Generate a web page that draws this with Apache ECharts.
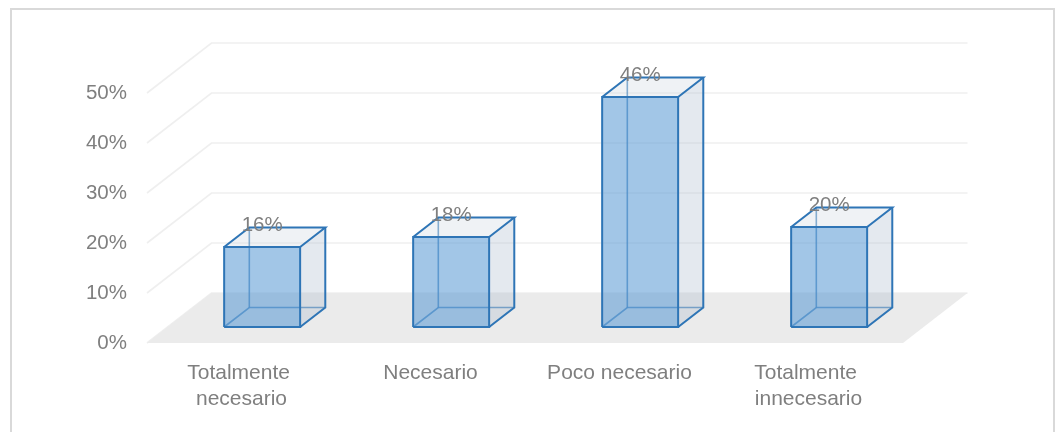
<!DOCTYPE html>
<html>
<head>
<meta charset="utf-8">
<title>Valoración</title>
<script src="https://cdn.jsdelivr.net/npm/echarts/dist/echarts.min.js"></script>
<style>
  html, body { margin: 0; padding: 0; background: #ffffff; }
  #chart { width: 1061px; height: 432px; }
</style>
</head>
<body>
<div id="chart"></div>
<script>
// Categories and percentages shown by the 3D columns
const categories = ['Totalmente necesario', 'Necesario', 'Poco necesario', 'Totalmente innecesario'];
const values = [16, 18, 46, 20];
const yTicks = [0, 10, 20, 30, 40, 50];

// Oblique projection of the depth axis (pixels from front plane to back wall)
const DEPTH = [64.5, -50];
// Column placement inside the depth of the floor, and width within a category band
const BAR_FRONT = 0.32;
const BAR_BACK = 0.71;
const BAR_WIDTH = 0.402;

const FONT = '"Liberation Sans", Arial, sans-serif';
const TEXT_COLOR = '#7f7f7f';
const EDGE = '#2e75b6';

function shift(p, k) {
  return [p[0] + DEPTH[0] * k, p[1] + DEPTH[1] * k];
}

// Back-wall and side-wall grid lines at each tick
function renderWallLine(params, api) {
  const cs = params.coordSys;
  const y = api.coord([0, api.value(1)])[1];
  const x0 = cs.x;
  const x1 = cs.x + cs.width;
  return {
    type: 'polyline',
    silent: true,
    shape: { points: [[x0, y], [x0 + DEPTH[0], y + DEPTH[1]], [x1 + DEPTH[0], y + DEPTH[1]]] },
    style: { stroke: '#efefef', lineWidth: 1.6, fill: null }
  };
}

// Gray floor under the columns
function renderFloor(params, api) {
  const cs = params.coordSys;
  const y = api.coord([0, api.value(1)])[1];
  const x0 = cs.x;
  const x1 = cs.x + cs.width;
  return {
    type: 'polygon',
    silent: true,
    shape: { points: [[x0, y], [x1, y], shift([x1, y], 1), shift([x0, y], 1)] },
    style: { fill: '#ebebeb' }
  };
}

// Translucent box for one column, with its value written above
function renderColumn(params, api) {
  const idx = api.value(0);
  const val = api.value(1);
  const base = api.coord([idx, 0]);
  const top = api.coord([idx, val]);
  const bw = api.size([1, 0])[0] * BAR_WIDTH;
  const xL = base[0] - bw / 2;
  const xR = base[0] + bw / 2;
  const yB = base[1];
  const yT = top[1];

  const FBL = shift([xL, yB], BAR_FRONT), FBR = shift([xR, yB], BAR_FRONT);
  const FTL = shift([xL, yT], BAR_FRONT), FTR = shift([xR, yT], BAR_FRONT);
  const BBL = shift([xL, yB], BAR_BACK), BBR = shift([xR, yB], BAR_BACK);
  const BTL = shift([xL, yT], BAR_BACK), BTR = shift([xR, yT], BAR_BACK);

  const face = (pts, fill) => ({
    type: 'polygon',
    shape: { points: pts },
    style: { fill: fill, stroke: null }
  });
  const edge = (pts, color, w) => ({
    type: 'polyline',
    shape: { points: pts },
    style: { stroke: color, lineWidth: w, fill: null, lineJoin: 'miter' }
  });

  return {
    type: 'group',
    children: [
      // hidden edges seen through the box
      edge([FBL, BBL, BBR], 'rgba(46,117,182,0.75)', 1.6),
      edge([BBL, BTL], 'rgba(46,117,182,0.75)', 1.6),
      // right side and top
      face([FBR, BBR, BTR, FTR], 'rgba(170,188,206,0.32)'),
      face([FTL, FTR, BTR, BTL], 'rgba(205,215,225,0.32)'),
      // front face
      face([FBL, FBR, FTR, FTL], 'rgba(91,155,213,0.57)'),
      // visible outline
      edge([FBL, FBR, FTR, FTL, FBL], EDGE, 2),
      edge([FTL, BTL, BTR, FTR], EDGE, 2),
      edge([BTR, BBR, FBR], EDGE, 2),
      {
        type: 'text',
        style: {
          text: val + '%',
          x: (FTL[0] + FTR[0]) / 2,
          y: BTL[1] - 2,
          align: 'center',
          verticalAlign: 'middle',
          fill: TEXT_COLOR,
          fontSize: 20.5,
          fontFamily: FONT
        }
      }
    ]
  };
}

const chart = echarts.init(document.getElementById('chart'), null, { renderer: 'canvas' });

chart.setOption({
  backgroundColor: '#ffffff',
  animation: false,
  graphic: [{
    type: 'rect',
    silent: true,
    z: -10,
    shape: { x: 11, y: 9, width: 1043, height: 460 },
    style: { fill: 'none', stroke: '#d9d9d9', lineWidth: 2 }
  }],
  grid: { left: 147, right: 158, top: 93, bottom: 89, containLabel: false },
  xAxis: {
    type: 'category',
    data: categories,
    axisLine: { show: false },
    axisTick: { show: false },
    splitLine: { show: false },
    axisLabel: {
      interval: 0,
      color: TEXT_COLOR,
      fontSize: 21,
      fontFamily: FONT,
      lineHeight: 26,
      margin: 17,
      width: 170,
      overflow: 'break'
    }
  },
  yAxis: {
    type: 'value',
    min: yTicks[0],
    max: yTicks[yTicks.length - 1],
    interval: 10,
    axisLine: { show: false },
    axisTick: { show: false },
    splitLine: { show: false },
    axisLabel: {
      formatter: '{value}%',
      color: TEXT_COLOR,
      fontSize: 20.5,
      fontFamily: FONT,
      margin: 20,
      padding: [6, 0, 0, 0]
    }
  },
  series: [
    {
      type: 'custom',
      name: 'walls',
      z: 1,
      clip: false,
      silent: true,
      renderItem: renderWallLine,
      encode: { x: 0, y: 1 },
      data: yTicks.map(t => [0, t])
    },
    {
      type: 'custom',
      name: 'floor',
      z: 2,
      clip: false,
      silent: true,
      renderItem: renderFloor,
      encode: { x: 0, y: 1 },
      data: [[0, yTicks[0]]]
    },
    {
      type: 'custom',
      name: 'columns',
      z: 3,
      clip: false,
      renderItem: renderColumn,
      encode: { x: 0, y: 1 },
      data: values.map((v, i) => [i, v])
    }
  ]
});
</script>
</body>
</html>
